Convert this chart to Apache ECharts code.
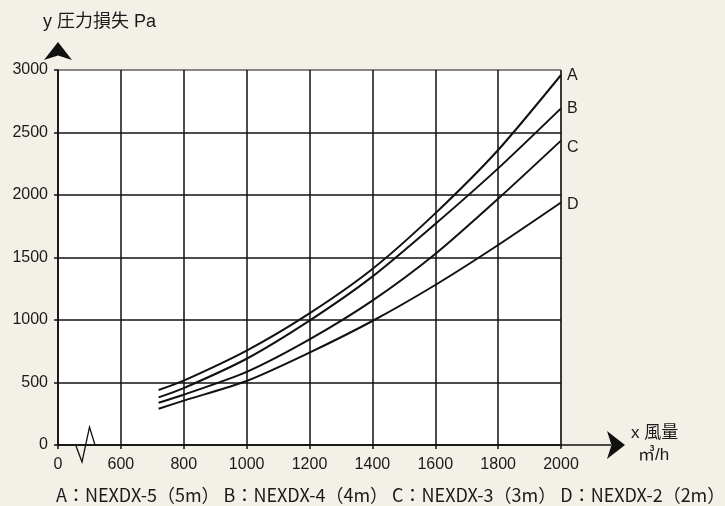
<!DOCTYPE html>
<html><head><meta charset="utf-8">
<script src="https://cdn.jsdelivr.net/npm/echarts@6/dist/echarts.min.js"></script>
<style>html,body{margin:0;padding:0;background:#f3f0e8;}#c{width:725px;height:506px;}</style>
</head><body><div id="c"></div>
<script>
// data
const flow = [720, 800, 1000, 1200, 1400, 1600, 1800, 2000];
const seriesNames = ['A', 'B', 'C', 'D'];
const lossA = [440, 515, 755, 1053, 1408, 1853, 2360, 2960];
const lossB = [381, 455, 690, 995, 1347, 1768, 2213, 2693];
const lossC = [338, 402, 585, 845, 1155, 1528, 1970, 2435];
const lossD = [290, 355, 512, 739, 992, 1280, 1600, 1940];
const yTitle = 'y 圧力損失 Pa';
const xTitle1 = 'x 風量';
const xTitle2 = '㎥/h';
const caption = 'A：NEXDX-5（5m） B：NEXDX-4（4m） C：NEXDX-3（3m） D：NEXDX-2（2m）';

const font = '"Liberation Sans", "Noto Sans CJK JP", sans-serif';
const cjk = '"Noto Sans CJK JP", sans-serif';
const txt = '#1a1a1a';
const allLoss = [lossA, lossB, lossC, lossD];
const labelOffsets = [[-2, 1], [-2, 0], [-2, 7], [-2, 2]];

const chart = echarts.init(document.getElementById('c'));
const option = {
  backgroundColor: '#f3f0e8',
  animation: false,
  grid: { left: 58, right: 164, top: 70, bottom: 61, show: true, backgroundColor: '#ffffff', borderColor: '#777', borderWidth: 1 },
  xAxis: {
    type: 'value', min: 400, max: 2000, interval: 200,
    axisLine: { lineStyle: { color: '#111', width: 1.5 }, symbol: ['none', 'arrow'], symbolSize: [21, 18], symbolOffset: [0, 64] },
    axisTick: { show: true, length: 4, lineStyle: { color: '#111', width: 1.5 } },
    axisLabel: { color: txt, fontSize: 16, fontFamily: font, margin: 12, formatter: v => v === 400 ? '0' : String(v) },
    splitLine: { show: true, lineStyle: { color: '#111', width: 1.5 } }
  },
  yAxis: {
    type: 'value', min: 0, max: 3000, interval: 500,
    axisLine: { lineStyle: { color: '#111', width: 1.5 }, symbol: ['none', 'arrow'], symbolSize: [21, 18], symbolOffset: [0, 28] },
    axisTick: { show: true, length: 4, lineStyle: { color: '#111', width: 1.5 } },
    axisLabel: { color: txt, fontSize: 16, fontFamily: font, margin: 10, formatter: v => String(v) },
    splitLine: { show: true, lineStyle: { color: ['#111', '#111', '#111', '#111', '#111', '#111', '#777'], width: 1.5 } }
  },
  series: seriesNames.map((n, i) => ({
    name: n, type: 'line', smooth: 0.25, showSymbol: false, silent: true,
    lineStyle: { color: '#111', width: 2 },
    data: flow.map((x, j) => [x, allLoss[i][j]]),
    endLabel: { show: true, formatter: n, color: txt, fontSize: 16, fontFamily: font, offset: labelOffsets[i] }
  })),
  graphic: [
    { type: 'text', left: 43, top: 13, style: { text: yTitle, font: '18px ' + font, fill: txt } },
    { type: 'text', left: 631, top: 425, style: { text: xTitle1, font: '17px ' + font, fill: txt } },
    { type: 'text', left: 638, top: 447, style: { text: xTitle2, font: '17px ' + font, fill: txt } },
    { type: 'text', left: 56, top: 486, style: { text: caption, font: '18px ' + cjk, fill: txt } }
  ]
};
chart.setOption(option);

// decorations: axis extension to arrow and axis break mark
const p2000 = chart.convertToPixel({ gridIndex: 0 }, [2000, 0]);
const p400 = chart.convertToPixel({ gridIndex: 0 }, [400, 0]);
chart.setOption({
  graphic: option.graphic.concat([
    { type: 'line', shape: { x1: p2000[0], y1: p2000[1], x2: p2000[0] + 50, y2: p2000[1] }, style: { stroke: '#111', lineWidth: 1.5 } },
    { type: 'polyline', shape: { points: [[p400[0] + 18, p400[1] + 1], [p400[0] + 24, p400[1] + 17], [p400[0] + 31.5, p400[1] - 18], [p400[0] + 37, p400[1]]] }, style: { stroke: '#111', lineWidth: 1.3, fill: null } }
  ])
});
</script></body></html>
